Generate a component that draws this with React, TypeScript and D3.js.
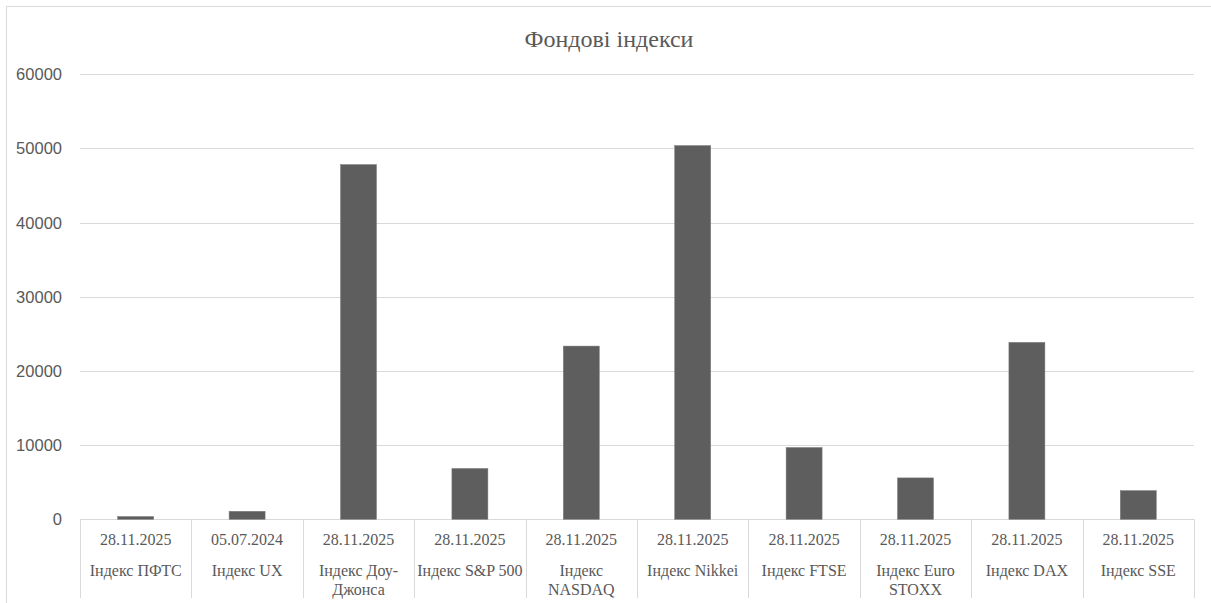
import React from "react";
import * as d3 from "d3";

const dates = ["28.11.2025","05.07.2024","28.11.2025","28.11.2025","28.11.2025","28.11.2025","28.11.2025","28.11.2025","28.11.2025","28.11.2025"];
const names = [
  ["Індекс ПФТС"],
  ["Індекс UX"],
  ["Індекс Доу-", "Джонса"],
  ["Індекс S&P 500"],
  ["Індекс", "NASDAQ"],
  ["Індекс Nikkei"],
  ["Індекс FTSE"],
  ["Індекс Euro", "STOXX"],
  ["Індекс DAX"],
  ["Індекс SSE"],
];
const values = [370, 1080, 47820, 6850, 23350, 50380, 9680, 5580, 23850, 3870];
const yTicks = [0, 10000, 20000, 30000, 40000, 50000, 60000];
const title = "Фондові індекси";

export default function App() {
  const W = 1211, H = 603;
  const left = 80, right = 1194, top = 74.2, bottom = 519.3;
  const ids = values.map((_, i) => String(i));
  const x = d3.scaleBand().domain(ids).range([left, right]).paddingInner(0.677).paddingOuter(0.3385);
  const xc = d3.scaleBand().domain(ids).range([left, right]).padding(0);
  const y = d3.scaleLinear().domain([0, 60000]).range([bottom, top]);
  const grid = "#d9d9d9";
  const txt = "#595959";
  const serif = "\"Liberation Serif\", \"DejaVu Serif\", \"Liberation Sans\", sans-serif";
  const sans = "\"Liberation Sans\", Arial, sans-serif";
  return (
    <div style={{ position: "absolute", left: 0, top: 0, width: W, height: H, overflow: "hidden", background: "#fff" }}>
      <svg width={W} height={H} style={{ display: "block" }}>
        <rect x={0} y={0} width={W} height={H} fill="#fff" />
        <rect x={6.5} y={6.5} width={W + 20} height={H + 20} fill="none" stroke={grid} strokeWidth={1} />
        <text x={609} y={47} textAnchor="middle" style={{ fontFamily: serif, fontSize: 24 }} fill={txt}>{title}</text>
        {yTicks.map((t) => (
          <g key={t}>
            <line x1={left} x2={right} y1={Math.round(y(t)) + 0.5} y2={Math.round(y(t)) + 0.5} stroke={grid} strokeWidth={1} />
            <text x={62} y={y(t) + 6} textAnchor="end" style={{ fontFamily: sans, fontSize: 16.5 }} fill={txt}>{t}</text>
          </g>
        ))}
        {ids.map((id) => (
          <line key={"s" + id} x1={Math.round(xc(id)!) + 0.5} x2={Math.round(xc(id)!) + 0.5} y1={bottom} y2={598} stroke={grid} strokeWidth={1} />
        ))}
        <line x1={right + 0.5} x2={right + 0.5} y1={bottom} y2={598} stroke={grid} strokeWidth={1} />
        {values.map((v, i) => (
          <rect key={"b" + i} x={x(ids[i])!} y={y(v)} width={x.bandwidth()} height={bottom - y(v)} fill="#5e5e5e" stroke="#7a7a7a" strokeWidth={0.5} />
        ))}
        {ids.map((id, i) => {
          const cx = xc(id)! + xc.bandwidth() / 2;
          return (
            <g key={"l" + id} style={{ fontFamily: serif, fontSize: 16 }} fill={txt} textAnchor="middle">
              <text x={cx} y={545}>{dates[i]}</text>
              {names[i].map((n, j) => (
                <text key={j} x={cx} y={576 + j * 19}>{n}</text>
              ))}
            </g>
          );
        })}
      </svg>
    </div>
  );
}
